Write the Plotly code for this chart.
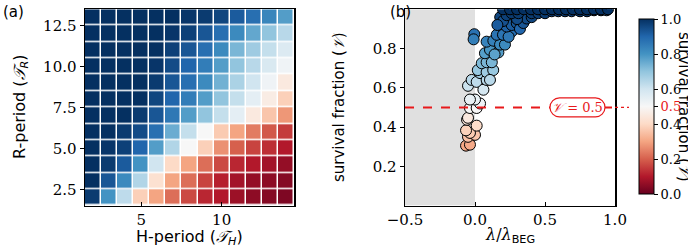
import plotly.graph_objects as go

# ---------------- data ----------------
h_period = [2, 3, 4, 5, 6, 7, 8, 9, 10, 11, 12, 13, 14]
r_period = [2, 3, 4, 5, 6, 7, 8, 9, 10, 11, 12, 13]
survival_grid = [
    [0.98, 0.80, 0.63, 0.38, 0.30, 0.22, 0.17, 0.12, 0.10, 0.07, 0.05, 0.04, 0.03],
    [1.00, 0.93, 0.82, 0.65, 0.42, 0.30, 0.22, 0.16, 0.11, 0.08, 0.06, 0.05, 0.04],
    [1.00, 0.98, 0.92, 0.80, 0.60, 0.40, 0.30, 0.22, 0.17, 0.12, 0.10, 0.08, 0.06],
    [1.00, 0.99, 0.97, 0.90, 0.78, 0.65, 0.50, 0.38, 0.27, 0.20, 0.16, 0.13, 0.10],
    [1.00, 1.00, 0.98, 0.95, 0.88, 0.75, 0.62, 0.50, 0.37, 0.30, 0.24, 0.19, 0.15],
    [1.00, 1.00, 1.00, 0.98, 0.93, 0.86, 0.78, 0.70, 0.62, 0.55, 0.45, 0.36, 0.28],
    [1.00, 1.00, 1.00, 1.00, 0.96, 0.90, 0.85, 0.78, 0.70, 0.62, 0.55, 0.46, 0.38],
    [1.00, 1.00, 1.00, 1.00, 0.98, 0.93, 0.88, 0.82, 0.74, 0.66, 0.60, 0.52, 0.45],
    [1.00, 1.00, 1.00, 1.00, 0.99, 0.95, 0.90, 0.85, 0.78, 0.70, 0.64, 0.58, 0.52],
    [1.00, 1.00, 1.00, 1.00, 1.00, 0.97, 0.93, 0.88, 0.82, 0.73, 0.68, 0.62, 0.57],
    [1.00, 1.00, 1.00, 1.00, 1.00, 0.99, 0.97, 0.93, 0.88, 0.82, 0.76, 0.70, 0.64],
    [1.00, 1.00, 1.00, 1.00, 1.00, 1.00, 0.99, 0.98, 0.96, 0.92, 0.88, 0.83, 0.78],
]

lam_ratio = [
    -0.064, -0.036, -0.050, 0.000, -0.036, -0.064, 0.012, -0.057, -0.050, -0.036,
    0.012, 0.036, 0.000, -0.036,
    -0.050, -0.024, 0.012, 0.060, 0.036, 0.083, 0.020, 0.083, 0.130, 0.107,
    0.048, 0.083, 0.120, 0.071, 0.107, 0.167, 0.140, 0.083, 0.131, 0.179, 0.214,
    0.155, 0.200, 0.262, 0.240, 0.226, 0.262, 0.298, 0.321, 0.345,
    0.190, 0.369, 0.405, 0.300, 0.180, 0.200, 0.160,
    0.226, 0.262, 0.310, 0.405, 0.452, 0.500, 0.548, 0.595, 0.643, 0.690,
    0.750, 0.800, 0.850, 0.900, 0.940,
    -0.005, -0.010,
    0.200, 0.250, 0.300, 0.350, 0.400, 0.450, 0.500, 0.550, 0.600, 0.650,
    0.700, 0.750, 0.800, 0.850, 0.900, 0.950,
]
surv_frac = [
    0.305, 0.310, 0.350, 0.360, 0.370, 0.383, 0.407, 0.437, 0.447, 0.497,
    0.497, 0.520, 0.540, 0.540,
    0.610, 0.640, 0.630, 0.590, 0.675, 0.640, 0.690, 0.680, 0.690, 0.640,
    0.725, 0.730, 0.730, 0.776, 0.793, 0.780, 0.770, 0.835, 0.840, 0.820, 0.820,
    0.870, 0.870, 0.886, 0.860, 0.912, 0.920, 0.930, 0.900, 0.930,
    0.953, 0.953, 0.960, 0.950, 0.960, 0.940, 0.920,
    0.970, 0.980, 0.980, 0.980, 0.980, 0.980, 0.990, 0.990, 0.990, 0.990,
    0.990, 0.990, 0.995, 0.995, 0.995,
    0.873, 0.847,
    1.000, 1.000, 1.000, 1.000, 1.000, 1.000, 1.000, 1.000, 1.000, 1.000,
    1.000, 1.000, 1.000, 1.000, 1.000, 1.000,
]

cbar_ticks = [0.0, 0.2, 0.4, 0.5, 0.6, 0.8, 1.0]
cbar_labels = ["0.0", "0.2", "0.4", "<span style='color:#e8191b'>0.5</span>", "0.6", "0.8", "1.0"]

# ---------------- style ----------------
W, H = 688, 247
RDBU = [[0.0, "#67001f"], [0.1, "#b2182b"], [0.2, "#d6604d"], [0.3, "#f4a582"],
        [0.4, "#fddbc7"], [0.5, "#f7f7f7"], [0.6, "#d1e5f0"], [0.7, "#92c5de"],
        [0.8, "#4393c3"], [0.9, "#2166ac"], [1.0, "#053061"]]
RED = "#e8191b"
SERIF = "DejaVu Serif"
SANS = "DejaVu Sans"


def px_x(p):
    return p / W


def px_y(p):
    return 1 - p / H


fig = go.Figure()

fig.add_trace(go.Heatmap(
    x=h_period, y=r_period, z=survival_grid,
    colorscale=RDBU, zmin=0, zmax=1, showscale=False,
    xgap=1.5, ygap=1.5, xaxis="x", yaxis="y", hoverinfo="skip",
))

fig.add_trace(go.Scatter(
    x=lam_ratio, y=surv_frac, mode="markers", xaxis="x2", yaxis="y2",
    marker=dict(
        size=11, color=surv_frac, colorscale=RDBU, cmin=0, cmax=1,
        line=dict(color="black", width=1),
        showscale=True,
        colorbar=dict(
            x=px_x(629), xanchor="left", thickness=15,
            y=px_y(204), yanchor="bottom", len=(204 - 9.3) / H, lenmode="fraction",
            outlinecolor="black", outlinewidth=1,
            ticks="outside", ticklen=4, tickcolor="black",
            tickvals=cbar_ticks, ticktext=cbar_labels,
            tickfont=dict(family=SERIF, size=13, color="black"),
        ),
    ),
    showlegend=False, cliponaxis=True, hoverinfo="skip",
))

axis_common = dict(
    showline=True, mirror=True, linecolor="black", linewidth=1.5,
    ticklen=4, tickwidth=1, tickcolor="black",
    showgrid=False, zeroline=False, automargin=False,
    tickfont=dict(family=SERIF, size=15, color="black"),
)

fig.update_layout(
    width=W, height=H, margin=dict(l=0, r=0, t=0, b=0, autoexpand=False),
    paper_bgcolor="white", plot_bgcolor="white",
    xaxis=dict(domain=[px_x(85), px_x(294)], range=[1.5, 14.5], ticks="inside",
               tickvals=[5, 10], ticktext=["5", "10"], anchor="y", **axis_common),
    yaxis=dict(domain=[px_y(205.7), px_y(9.3)], range=[1.5, 13.5], ticks="outside",
               tickvals=[2.5, 5, 7.5, 10, 12.5],
               ticktext=["2.5", "5.0", "7.5", "10.0", "12.5"], anchor="x", **axis_common),
    xaxis2=dict(domain=[px_x(405), px_x(615)], range=[-0.5, 1.0], ticks="inside",
                tickvals=[-0.5, 0, 0.5, 1.0], ticktext=["\u22120.5", "0.0", "0.5", "1.0"],
                anchor="y2", **axis_common),
    yaxis2=dict(domain=[px_y(205.5), px_y(9.3)], range=[0, 1.0], ticks="outside",
                tickvals=[0.2, 0.4, 0.6, 0.8], ticktext=["0.2", "0.4", "0.6", "0.8"],
                anchor="x2", **axis_common),
)

# grey region lambda < 0
fig.add_shape(type="rect", xref="x2", yref="y2", x0=-0.5, x1=0.0, y0=0, y1=1.0,
              fillcolor="#e0e0e0", line=dict(width=0), layer="below")
# red dashed threshold line
fig.add_shape(type="line", xref="x2", yref="y2", x0=-0.5, x1=1.0, y0=0.5, y1=0.5,
              line=dict(color=RED, width=2, dash="dash"), layer="above")
fig.add_shape(type="line", xref="paper", yref="y2", x0=px_x(615), x1=px_x(629), y0=0.5, y1=0.5,
              line=dict(color=RED, width=1.2, dash="dot"), layer="above")
# pill-shaped label box
pill = ("M -18,-9.5 L 18,-9.5 C 23.2,-9.5 27.5,-5.2 27.5,0 C 27.5,5.2 23.2,9.5 18,9.5 "
        "L -18,9.5 C -23.2,9.5 -27.5,5.2 -27.5,0 C -27.5,-5.2 -23.2,-9.5 -18,-9.5 Z")
fig.add_shape(type="path", xref="x2", yref="y2", xsizemode="pixel", ysizemode="pixel",
              xanchor=0.732, yanchor=0.5, path=pill,
              fillcolor="white", line=dict(color=RED, width=1.2), layer="above")


def label(text, x, y, size, family=SANS, color="black", angle=0, xa="center", ya="middle",
          xr="paper", yr="paper"):
    return dict(text=text, x=x, y=y, xref=xr, yref=yr, xanchor=xa, yanchor=ya,
                showarrow=False, textangle=angle,
                font=dict(family=family, size=size, color=color))


ann = [
    label("<i>𝒱</i> = 0.5", 0.732, 0.5, 13, SERIF, RED, xr="x2", yr="y2"),
    label("(a)", px_x(1), px_y(1), 15, xa="left", ya="top"),
    label("(b)", px_x(388), px_y(1), 15, xa="left", ya="top"),
    label("H-period (<i>𝒯</i><sub><i>H</i></sub>)", px_x(189), px_y(237), 16),
    label("R-period (<i>𝒯</i><sub><i>R</i></sub>)", px_x(20), px_y(107), 16, angle=-90),
    label("<i>λ</i>/<i>λ</i><sub><span style='font-family:DejaVu Sans'>BEG</span></sub>",
          px_x(510), px_y(235), 16, SERIF),
    label("survival fraction (<i>𝒱</i>)", px_x(339), px_y(107), 15, angle=-90),
    label("survival fraction (<i>𝒱</i>)", px_x(684), px_y(107), 15, angle=90),
]
fig.update_layout(annotations=ann)

fig.write_html("out.html", config={"displayModeBar": False, "staticPlot": True},
               post_script="document.body.style.margin='0px';")
